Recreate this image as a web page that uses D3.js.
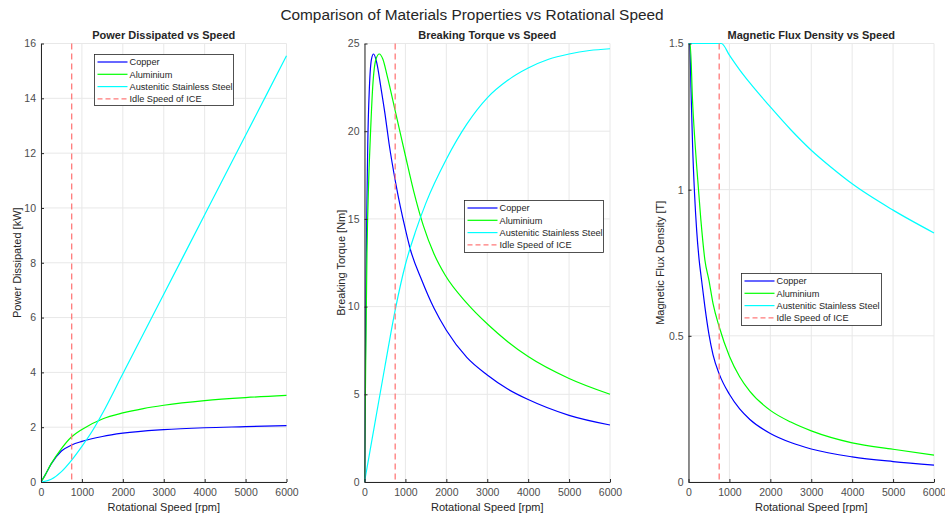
<!DOCTYPE html>
<html lang="en">
<head>
<meta charset="UTF-8">
<title>Comparison of Materials Properties vs Rotational Speed</title>
<script src="https://d3js.org/d3.v7.min.js"></script>
<style>
  body { margin: 0; background: #fff; font-family: "Liberation Sans", Arial, sans-serif; }
  svg text { fill: #262626; }
  .tick text { fill: #4d4d4d; }
</style>
</head>
<body>
<svg id="chart" width="945" height="518"></svg>
<script>
// ---- data ----
const idleSpeed = 750;
const xTicks = [0, 1000, 2000, 3000, 4000, 5000, 6000];

// Power dissipated [kW]
const powerCopperRpm = [0, 100, 250, 500, 750, 1000, 1500, 2000, 3000, 4000, 5000, 6000];
const powerCopper    = [0, 0.25, 0.66, 1.13, 1.35, 1.48, 1.66, 1.78, 1.91, 1.98, 2.02, 2.06];
const powerAluRpm = [0, 100, 250, 500, 750, 1000, 1500, 2000, 2500, 3000, 4000, 5000, 6000];
const powerAlu    = [0, 0.25, 0.67, 1.22, 1.65, 1.92, 2.3, 2.52, 2.68, 2.8, 2.97, 3.08, 3.16];
const powerSteelRpm = [0, 250, 500, 750, 1000, 1250, 1500, 2000, 3000, 4000, 5000, 6000];
const powerSteel    = [0, 0.1, 0.38, 0.8, 1.3, 1.85, 2.5, 3.95, 6.85, 9.75, 12.65, 15.55];

// Breaking torque [Nm]
const torqueCopperRpm = [0, 20, 40, 60, 80, 120, 170, 220, 300, 400, 500, 600, 766, 1000, 1116, 1400, 1700, 2000, 2500, 3000, 3500, 4000, 5000, 6000];
const torqueCopper    = [0, 6, 12, 16, 19.3, 22.5, 24.1, 24.4, 23.9, 22.5, 21.0, 19.3, 17.0, 14.4, 13.3, 11.5, 9.9, 8.65, 7.1, 6.1, 5.3, 4.7, 3.8, 3.25];
const torqueAluRpm = [0, 30, 60, 100, 140, 200, 280, 360, 450, 550, 766, 1000, 1200, 1440, 1700, 1970, 2500, 3030, 3500, 4000, 5000, 6000];
const torqueAlu    = [0, 7, 13, 17, 19.5, 22.5, 24.1, 24.4, 24.1, 23.2, 21.0, 18.6, 16.6, 14.6, 13.0, 11.8, 10.2, 8.95, 8.0, 7.15, 5.9, 5.0];
const torqueSteelRpm = [0, 250, 500, 750, 1000, 1250, 1500, 2000, 2500, 3000, 3500, 4000, 4500, 5000, 5500, 6000];
const torqueSteel    = [0, 3.3, 6.6, 9.8, 12.4, 14.3, 15.9, 18.4, 20.4, 21.9, 22.9, 23.6, 24.1, 24.4, 24.6, 24.7];

// Magnetic flux density [T]
const fluxCopperRpm = [0, 30, 60, 100, 150, 200, 260, 320, 400, 500, 600, 750, 1000, 1250, 1500, 2000, 2500, 3000, 4000, 5000, 6000];
const fluxCopper    = [1.5, 1.5, 1.35, 1.15, 0.98, 0.86, 0.76, 0.69, 0.6, 0.505, 0.435, 0.37, 0.3, 0.25, 0.214, 0.166, 0.135, 0.113, 0.086, 0.07, 0.058];
const fluxAluRpm = [0, 40, 100, 200, 300, 400, 500, 600, 750, 1000, 1250, 1500, 2000, 2500, 3000, 4000, 5000, 6000];
const fluxAlu    = [1.5, 1.5, 1.3, 1.08, 0.9, 0.76, 0.69, 0.61, 0.531, 0.43, 0.36, 0.31, 0.245, 0.205, 0.175, 0.134, 0.112, 0.092];
const fluxSteelRpm = [0, 805, 1000, 1250, 1500, 2000, 2500, 3000, 3500, 4000, 5000, 6000];
const fluxSteel    = [1.5, 1.5, 1.46, 1.41, 1.365, 1.283, 1.205, 1.135, 1.075, 1.02, 0.93, 0.852];

const seriesNames = ["Copper", "Aluminium", "Austenitic Stainless Steel"];
const seriesColors = ["#0000ff", "#00ff00", "#00ffff"];
const idleColor = "#ff7a7a";

const zip = (xs, ys) => xs.map((x, i) => ({ x: x, y: ys[i] }));

const panels = [
  { title: "Power Dissipated vs Speed", ylabel: "Power Dissipated [kW]", left: 41, ymax: 16, yticks: d3.range(0, 17, 2), labelOff: 20,
    series: [zip(powerCopperRpm, powerCopper), zip(powerAluRpm, powerAlu), zip(powerSteelRpm, powerSteel)],
    legend: { x: 94.5, y: 54.5, w: 139, h: 51 } },
  { title: "Breaking Torque vs Speed", ylabel: "Breaking Torque [Nm]", left: 364.5, ymax: 25, yticks: d3.range(0, 26, 5), labelOff: 19.5,
    series: [zip(torqueCopperRpm, torqueCopper), zip(torqueAluRpm, torqueAlu), zip(torqueSteelRpm, torqueSteel)],
    legend: { x: 464.5, y: 200.5, w: 139, h: 52 } },
  { title: "Magnetic Flux Density vs Speed", ylabel: "Magnetic Flux Density [T]", left: 688.5, ymax: 1.5, yticks: [0, 0.5, 1, 1.5], labelOff: 24.5,
    series: [zip(fluxCopperRpm, fluxCopper), zip(fluxAluRpm, fluxAlu), zip(fluxSteelRpm, fluxSteel)],
    legend: { x: 741.5, y: 273.5, w: 140, h: 52 } }
];

const plotW = 245.5, axTop = 43.5, axBottom = 482;
const svg = d3.select("#chart");

svg.append("text")
  .attr("x", 472).attr("y", 20)
  .attr("text-anchor", "middle")
  .attr("font-size", 15.4)
  .text("Comparison of Materials Properties vs Rotational Speed");

panels.forEach((p, pi) => {
  const x = d3.scaleLinear().domain([0, 6000]).range([p.left, p.left + plotW]);
  const y = d3.scaleLinear().domain([0, p.ymax]).range([axBottom, axTop]);
  const g = svg.append("g");

  // grid
  g.append("g").selectAll("line").data(xTicks).join("line")
    .attr("x1", d => x(d)).attr("x2", d => x(d)).attr("y1", axTop).attr("y2", axBottom)
    .attr("stroke", "#e8e8e8").attr("stroke-width", 1);
  g.append("g").selectAll("line").data(p.yticks).join("line")
    .attr("x1", p.left).attr("x2", p.left + plotW).attr("y1", d => y(d)).attr("y2", d => y(d))
    .attr("stroke", "#e8e8e8").attr("stroke-width", 1);

  // clip
  g.append("clipPath").attr("id", "clip" + pi).append("rect")
    .attr("x", p.left).attr("y", axTop - 1).attr("width", plotW + 1).attr("height", axBottom - axTop + 1);

  const line = d3.line().x(d => x(d.x)).y(d => y(d.y)).curve(d3.curveMonotoneX);
  const plot = g.append("g").attr("clip-path", `url(#clip${pi})`);
  p.series.forEach((s, i) => {
    plot.append("path").datum(s)
      .attr("d", line)
      .attr("fill", "none")
      .attr("stroke", seriesColors[i])
      .attr("stroke-width", 1.2);
  });
  plot.append("line")
    .attr("x1", x(idleSpeed)).attr("x2", x(idleSpeed)).attr("y1", axTop).attr("y2", axBottom)
    .attr("stroke", idleColor).attr("stroke-width", 1.3).attr("stroke-dasharray", "6,4");

  // axes
  const fmt = d => String(d);
  const xAxis = g.append("g").attr("transform", `translate(0,${axBottom})`)
    .call(d3.axisBottom(x).tickValues(xTicks).tickFormat(fmt).tickSizeInner(-3).tickSizeOuter(0).tickPadding(7));
  const yAxis = g.append("g").attr("transform", `translate(${p.left},0)`)
    .call(d3.axisLeft(y).tickValues(p.yticks).tickFormat(fmt).tickSizeInner(-3).tickSizeOuter(0).tickPadding(5));
  [xAxis, yAxis].forEach(a => {
    a.select(".domain").attr("stroke", "#262626");
    a.selectAll(".tick line").attr("stroke", "#262626");
    a.selectAll(".tick text").attr("font-size", 10.5).attr("font-family", "Liberation Sans, Arial, sans-serif");
  });

  // labels
  g.append("text")
    .attr("x", p.left + plotW / 2).attr("y", 38.5)
    .attr("text-anchor", "middle").attr("font-size", 11).attr("font-weight", "bold")
    .text(p.title);
  g.append("text")
    .attr("x", p.left + plotW / 2).attr("y", 511)
    .attr("text-anchor", "middle").attr("font-size", 11)
    .text("Rotational Speed [rpm]");
  g.append("text")
    .attr("transform", `translate(${p.left - p.labelOff},${(axTop + axBottom) / 2}) rotate(-90)`)
    .attr("text-anchor", "middle").attr("font-size", 11)
    .text(p.ylabel);

  // legend
  const L = p.legend;
  const lg = g.append("g").attr("transform", `translate(${L.x},${L.y})`);
  lg.append("rect").attr("width", L.w).attr("height", L.h)
    .attr("fill", "#fff").attr("stroke", "#262626").attr("stroke-width", 0.8);
  const items = seriesNames.map((n, i) => ({ name: n, color: seriesColors[i], dash: null }))
    .concat([{ name: "Idle Speed of ICE", color: idleColor, dash: "5,3" }]);
  items.forEach((it, i) => {
    const yy = 7.5 + i * 12.3;
    lg.append("line").attr("x1", 3).attr("x2", 33).attr("y1", yy).attr("y2", yy)
      .attr("stroke", it.color).attr("stroke-width", 1.2)
      .attr("stroke-dasharray", it.dash);
    lg.append("text").attr("x", 35).attr("y", yy + 3.3)
      .attr("font-size", 9.2).text(it.name);
  });
});
</script>
</body>
</html>
